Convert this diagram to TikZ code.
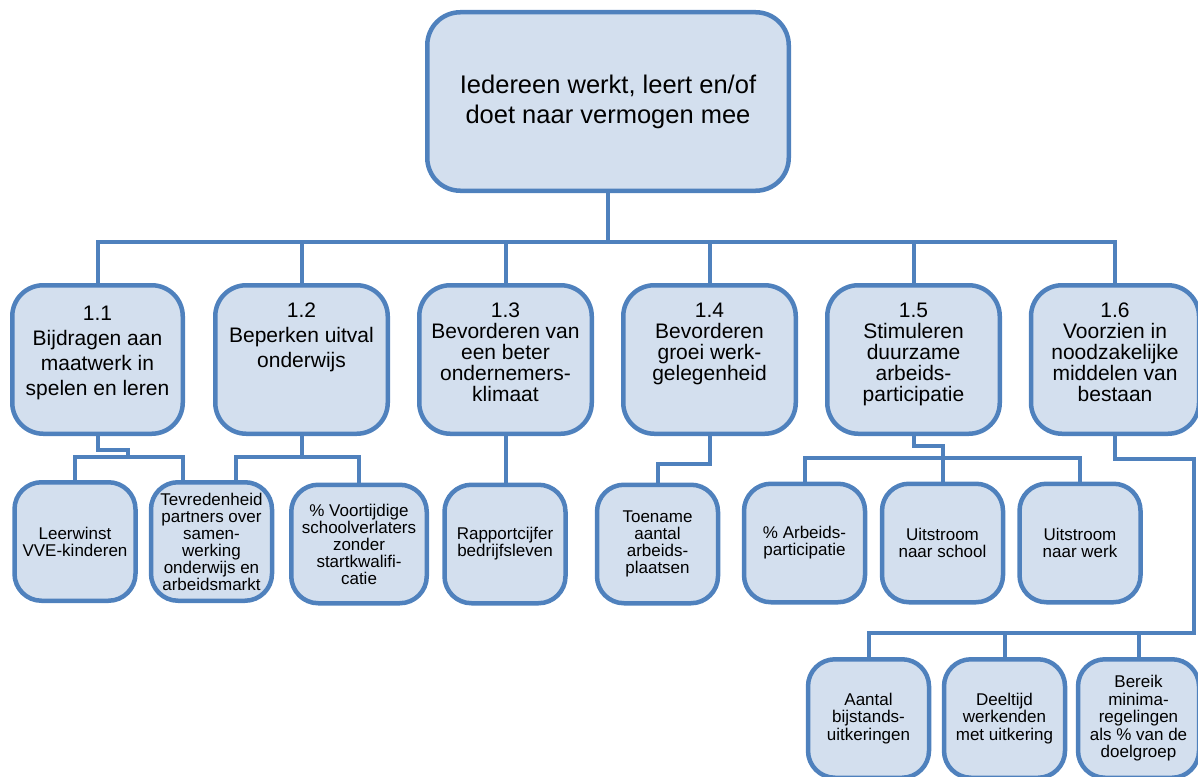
\documentclass[tikz,border=0pt]{standalone}
\usepackage{fontspec}
\setmainfont{Liberation Sans}
\usetikzlibrary{backgrounds}
\definecolor{bblue}{HTML}{4F81BD}
\definecolor{bfill}{HTML}{D3DFEE}
\newcommand\lvltext[3]{\parbox[t][148.5pt][t]{168pt}{\centering\fontsize{21}{#2}\selectfont\rule{0pt}{#1}#3}}
\tikzset{
  conn/.style={draw=bblue, line width=4pt},
  topbox/.style={draw=bblue, fill=bfill, line width=4.5pt, rounded corners=33pt, inner sep=0pt,
    minimum width=361.5pt, minimum height=178.5pt, align=center, font=\fontsize{25.5}{30}\selectfont},
  midbox/.style={draw=bblue, fill=bfill, line width=4.5pt, rounded corners=31pt, inner sep=0pt,
    minimum height=148.5pt, minimum width=172.5pt},
  leafbox/.style={draw=bblue, fill=bfill, line width=4.5pt, rounded corners=27pt, inner sep=0pt,
    minimum height=118.5pt, minimum width=121pt, align=center, font=\fontsize{17}{17}\selectfont},
}
\begin{document}
\begin{tikzpicture}[x=1pt,y=-1pt]
\useasboundingbox (0,0) rectangle (1198,776);
\clip (0,0) rectangle (1198,776);
% nodes
\node[topbox] (top) at (608,101.5) {Iedereen werkt, leert en/of\\doet naar vermogen mee};
\node[midbox, minimum width=170.5pt] (n11) at (97.5,359.5) {\lvltext{35pt}{25}{1.1\\Bijdragen aan\\maatwerk in\\spelen en leren}};
\node[midbox] (n12) at (301.5,359.5) {\lvltext{32pt}{25}{1.2\\Beperken uitval\\onderwijs}};
\node[midbox] (n13) at (505.5,359.5) {\lvltext{32pt}{21}{1.3\\Bevorderen van\\een beter\\ondernemers-\\klimaat}};
\node[midbox] (n14) at (709.5,359.5) {\lvltext{32pt}{21}{1.4\\Bevorderen\\groei werk-\\gelegenheid}};
\node[midbox] (n15) at (913.5,359.5) {\lvltext{32pt}{21}{1.5\\Stimuleren\\duurzame\\arbeids-\\participatie}};
\node[midbox, minimum width=166.5pt] (n16) at (1115,359.5) {\lvltext{32pt}{21}{1.6\\Voorzien in\\noodzakelijke\\middelen van\\bestaan}};

\node[leafbox] (l1) at (75,541.5) {Leerwinst\\VVE-kinderen};
\node[leafbox] (l2) at (211.5,541.5) {Tevredenheid\\partners over\\samen-\\werking\\onderwijs en\\arbeidsmarkt};
\node[leafbox, minimum width=135.5pt] (l3) at (359,544) {\% Voortijdige\\schoolverlaters\\zonder\\startkwalifi-\\catie};
\node[leafbox] (l4) at (505,544) {Rapportcijfer\\bedrijfsleven};
\node[leafbox] (l5) at (657.5,544) {Toename\\aantal\\arbeids-\\plaatsen};
\node[leafbox] (l6) at (804.5,543) {\% Arbeids-\\participatie};
\node[leafbox] (l7) at (942.5,543) {Uitstroom\\naar school};
\node[leafbox] (l8) at (1080,543) {Uitstroom\\naar werk};

\node[leafbox, font=\fontsize{17}{17.5}\selectfont] (b1) at (868.5,718.5) {Aantal\\bijstands-\\uitkeringen};
\node[leafbox, font=\fontsize{17}{17.5}\selectfont] (b2) at (1004.5,718.5) {Deeltijd\\werkenden\\met uitkering};
\node[leafbox, font=\fontsize{17}{17.5}\selectfont] (b3) at (1138.5,718.5) {Bereik\\minima-\\regelingen\\als \% van de\\doelgroep};

% connectors (drawn behind boxes)
\begin{scope}[on background layer]
\coordinate (bus) at (0,241.5);
\foreach \n in {n11,n12,n13,n14,n15,n16}{
  \draw[conn] (top.south) |- (\n.north |- bus) -- (\n.north);
}
% 1.1
\coordinate (k11) at (128,457);
\coordinate (k11R) at (183,457);
\draw[conn] (n11.south) -- ++(0,13.5) -| (k11);
\draw[conn] (l1.north) |- (k11R) -- (k11R |- l2.north);
% 1.2
\coordinate (k12L) at (236,457);
\draw[conn] (n12.south) -- (n12.south |- k12L);
\draw[conn] (k12L |- l2.north) |- (l3.north |- k12L) -- (l3.north);
% 1.3
\draw[conn] (n13.south) -- (n13.south |- l4.north);
% 1.4
\coordinate (k14) at (657.5,463.5);
\draw[conn] (n14.south) |- (k14) -- (l5.north);
% 1.5
\coordinate (k15a) at (942.5,446);
\coordinate (k15b) at (0,458);
\draw[conn] (n15.south) |- (k15a) -- (l7.north);
\draw[conn] (l6.north) |- (l8.north |- k15b) -- (l8.north);
% 1.6
\coordinate (k16a) at (1194,459);
\coordinate (k16b) at (1194,633);
\draw[conn] (n16.south) |- (k16a) -- (k16b) -| (b1.north);
\draw[conn] (b2.north |- k16b) -- (b2.north);
\draw[conn] (b3.north |- k16b) -- (b3.north);
\end{scope}
\end{tikzpicture}
\end{document}
